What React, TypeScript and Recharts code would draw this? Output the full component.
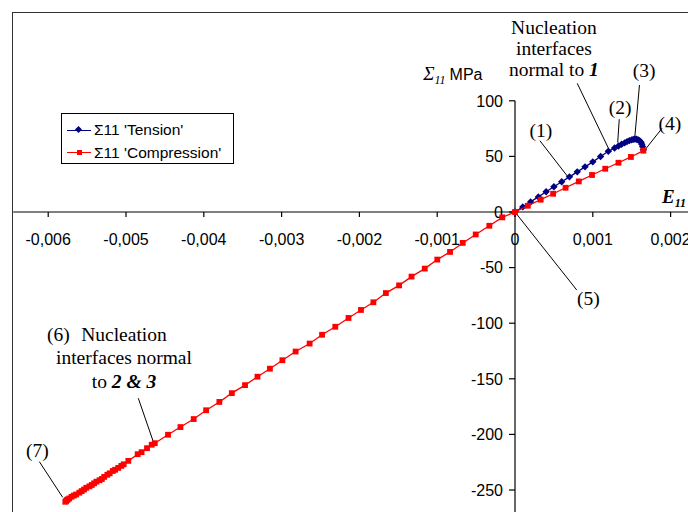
import React from 'react';
import { ScatterChart, Scatter, XAxis, YAxis, ReferenceLine, ReferenceDot } from 'recharts';

// ---------- data ----------
const tensionX = [0, 0.0001, 0.0002, 0.0003, 0.0004, 0.0005, 0.0006, 0.0007, 0.0008, 0.0009, 0.001, 0.0011, 0.0012,
  0.00128, 0.00133, 0.00137, 0.00141, 0.00144, 0.00147, 0.0015, 0.00152, 0.00154, 0.00156, 0.00158, 0.0016, 0.00162,
  0.00163, 0.00164, 0.00165];
const tensionY = [0, 4.6, 9.1, 13.6, 18.2, 22.7, 27.2, 31.6, 36.1, 40.6, 45.1, 49.9, 54.6,
  57.5, 59.3, 60.9, 62.2, 63.3, 64.2, 64.9, 65.3, 65.5, 65.4, 65.0, 64.2, 62.8,
  61.0, 58.8, 56.0];

const compressionX = [0.00165, 0.00149, 0.00133, 0.00116, 0.00099, 0.00082, 0.00065, 0.00049, 0.00033, 0.000165, 0,
  -0.000163, -0.00033, -0.000505, -0.000672, -0.000835, -0.000999, -0.00116, -0.00133, -0.00149, -0.00166, -0.00182,
  -0.00198, -0.00214, -0.00231, -0.00248, -0.00264, -0.00282, -0.00299, -0.00315, -0.00331, -0.00347, -0.00364,
  -0.0038, -0.00397, -0.00413, -0.0043, -0.00446, -0.00463, -0.00467, -0.00473, -0.0048, -0.00485, -0.00497,
  -0.00503, -0.00506, -0.00510, -0.00514, -0.00517, -0.00521, -0.00524, -0.00528, -0.00531, -0.00534, -0.00538,
  -0.00541, -0.00544, -0.00547, -0.00551, -0.00554, -0.00557, -0.0056, -0.00564, -0.00567, -0.0057, -0.00573,
  -0.00575, -0.00576, -0.00577, -0.00578];
const compressionY = [55.2, 49.5, 44.3, 38.9, 33.3, 27.5, 21.8, 16.4, 11.1, 5.6, 0,
  -4.8, -12.4, -20.2, -27.8, -35.9, -42.8, -50.9, -58.1, -66.0, -72.9, -81.2,
  -88.1, -95.3, -103.2, -110.4, -118.3, -125.5, -133.3, -140.9, -148.1, -155.7, -162.9,
  -170.8, -178.3, -186.2, -193.4, -200.3, -207.9, -209.3, -212.4, -216.0, -217.8, -223.8,
  -226.9, -228.3, -230.1, -231.8, -232.9, -235.0, -236.3, -238.2, -240.1, -241.2, -242.5,
  -244.0, -245.5, -246.7, -248.0, -249.6, -251.0, -252.4, -254.0, -255.0, -256.1, -257.6,
  -258.5, -259.1, -259.9, -260.6];

const xTickValues = [-0.006, -0.005, -0.004, -0.003, -0.002, -0.001, 0, 0.001, 0.002];
const xTickLabels = ['-0,006', '-0,005', '-0,004', '-0,003', '-0,002', '-0,001', '0', '0,001', '0,002'];
const yTickValues = [100, 50, 0, -50, -100, -150, -200, -250];
const yTickLabels = ['100', '50', '0', '-50', '-100', '-150', '-200', '-250'];
const seriesNames = ["\u03A311 'Tension'", "\u03A311 'Compression'"];

const tensionData = tensionX.map((x, i) => ({ x, y: tensionY[i] }));
const compressionData = compressionX.map((x, i) => ({ x, y: compressionY[i] }));

// ---------- styles ----------
const SERIF = "'Liberation Serif', 'Times New Roman', serif";
const SANS = "'Liberation Sans', Arial, Helvetica, sans-serif";
const BLUE = '#000080';
const RED = '#FF0000';

const Diamond = (p: any) => {
  const { cx, cy } = p;
  const r = 3.7;
  return <polygon points={`${cx},${cy - r} ${cx + r},${cy} ${cx},${cy + r} ${cx - r},${cy}`} fill={BLUE} />;
};
const Square = (p: any) => {
  const { cx, cy } = p;
  return <rect x={cx - 2.9} y={cy - 2.9} width={5.8} height={5.8} fill={RED} />;
};

const serifText = (content: (cx: number) => React.ReactNode, anchor: string = 'middle') => (p: any) => (
  <text x={p.cx} y={p.cy} textAnchor={anchor} fontFamily={SERIF} fontSize={19.5} fill="#000">
    {content(p.cx)}
  </text>
);

const leaders: [number, number, number, number][] = [
  [0.0008, 115.7, 0.00121, 56.0],
  [0.00032, 64.1, 0.000685, 31.2],
  [0.00134, 83.4, 0.00132, 62.5],
  [0.0016, 114.2, 0.00154, 67.5],
  [0.00189, 75.3, 0.00167, 55.8],
  [0, 0, 0.000793, -70.1],
  [-0.004842, -167.5, -0.004649, -206.6],
  [-0.006114, -224.5, -0.005814, -256.6],
];

export default function App() {
  return (
    <div style={{ position: 'fixed', left: 0, top: 0, width: 688, height: 512, overflow: 'hidden', background: '#fff' }}>
      <div style={{ position: 'absolute', left: 12, top: 12, width: 1000, height: 1000, borderLeft: '1.6px solid #333', borderTop: '1.6px solid #333' }} />
      <div style={{ position: 'absolute', left: 0, top: 0 }}>
        <ScatterChart width={720} height={560} margin={{ top: 100.8, right: 10.5, bottom: 14.4, left: 13.2 }}>
          <XAxis type="number" dataKey="x" domain={[-0.00645, 0.0025]} hide allowDataOverflow />
          <YAxis type="number" dataKey="y" domain={[-300, 100]} hide allowDataOverflow />
          <ReferenceLine y={0} stroke="#000" strokeWidth={1.2} ifOverflow="visible" />
          <ReferenceLine x={0} stroke="#000" strokeWidth={1.2} ifOverflow="visible" />
          {xTickValues.map((v, i) => (
            <ReferenceDot key={'xt' + i} x={v} y={0} r={0} ifOverflow="visible"
              shape={(p: any) => (
                <g>
                  <line x1={p.cx} y1={p.cy} x2={p.cx} y2={p.cy + 5} stroke="#000" strokeWidth={1.2} />
                  <text x={p.cx} y={p.cy + 33} textAnchor="middle" fontFamily={SANS} fontSize={16} fill="#000">{xTickLabels[i]}</text>
                </g>
              )} />
          ))}
          {yTickValues.map((v, i) => (
            <ReferenceDot key={'yt' + i} x={0} y={v} r={0} ifOverflow="visible"
              shape={(p: any) => (
                <g>
                  <line x1={p.cx - 6} y1={p.cy} x2={p.cx} y2={p.cy} stroke="#000" strokeWidth={1.2} />
                  <text x={p.cx - 12} y={p.cy + 5.7} textAnchor="end" fontFamily={SANS} fontSize={16} fill="#000">{yTickLabels[i]}</text>
                </g>
              )} />
          ))}
          {leaders.map((s, i) => (
            <ReferenceLine key={'ld' + i} segment={[{ x: s[0], y: s[1] }, { x: s[2], y: s[3] }]} stroke="#000" strokeWidth={1} ifOverflow="visible" />
          ))}
          <Scatter name={seriesNames[0]} data={tensionData} line={{ stroke: BLUE, strokeWidth: 1.3 }} lineType="joint" shape={Diamond} isAnimationActive={false} />
          <Scatter name={seriesNames[1]} data={compressionData} line={{ stroke: RED, strokeWidth: 1.3 }} lineType="joint" shape={Square} isAnimationActive={false} />

          <ReferenceDot x={0.0005} y={160} r={0} ifOverflow="visible" shape={serifText((cx) => (
            <>
              <tspan x={cx}>Nucleation</tspan>
              <tspan x={cx} dy={21}>interfaces</tspan>
              <tspan x={cx} dy={21}>normal to <tspan fontWeight="bold" fontStyle="italic">1</tspan></tspan>
            </>
          ))} />
          <ReferenceDot x={0.000334} y={67.4} r={0} ifOverflow="visible" shape={serifText(() => '(1)')} />
          <ReferenceDot x={0.00135} y={88.1} r={0} ifOverflow="visible" shape={serifText(() => '(2)')} />
          <ReferenceDot x={0.00166} y={121.4} r={0} ifOverflow="visible" shape={serifText(() => '(3)')} />
          <ReferenceDot x={0.00199} y={73.7} r={0} ifOverflow="visible" shape={serifText(() => '(4)')} />
          <ReferenceDot x={0.000942} y={-83.6} r={0} ifOverflow="visible" shape={serifText(() => '(5)')} />
          <ReferenceDot x={-0.00587} y={-116} r={0} ifOverflow="visible" shape={serifText(() => '(6)')} />
          <ReferenceDot x={-0.005026} y={-116} r={0} ifOverflow="visible" shape={serifText((cx) => (
            <>
              <tspan x={cx}>Nucleation</tspan>
              <tspan x={cx} dy={23.5}>interfaces normal</tspan>
              <tspan x={cx} dy={23.5}>to <tspan fontWeight="bold" fontStyle="italic">2 &amp; 3</tspan></tspan>
            </>
          ))} />
          <ReferenceDot x={-0.006138} y={-220.3} r={0} ifOverflow="visible" shape={serifText(() => '(7)')} />
          <ReferenceDot x={-0.00118} y={118.7} r={0} ifOverflow="visible" shape={(p: any) => (
            <text x={p.cx} y={p.cy} fill="#000">
              <tspan fontFamily={SERIF} fontStyle="italic" fontSize={19}>{'\u03A3'}</tspan>
              <tspan fontFamily={SERIF} fontStyle="italic" fontSize={12} dy={4}>11</tspan>
              <tspan fontFamily={SANS} fontSize={16} dy={-4} dx={4}>MPa</tspan>
            </text>
          )} />
          <ReferenceDot x={0.00189} y={8.1} r={0} ifOverflow="visible" shape={(p: any) => (
            <text x={p.cx} y={p.cy} fill="#000">
              <tspan fontFamily={SERIF} fontStyle="italic" fontWeight="bold" fontSize={19}>E</tspan>
              <tspan fontFamily={SERIF} fontStyle="italic" fontWeight="bold" fontSize={12} dy={4}>11</tspan>
            </text>
          )} />
        </ScatterChart>
      </div>
      <div style={{ position: 'absolute', left: 61, top: 113, width: 171, height: 49, border: '1px solid #000', background: '#fff', fontFamily: SANS, fontSize: 15.5 }}>
        {[BLUE, RED].map((c, i) => (
          <div key={i} style={{ position: 'absolute', left: 0, top: 16 + i * 22.7 - 10, height: 20, width: 171 }}>
            <div style={{ position: 'absolute', left: 5, top: 9.5, width: 24, height: 1.2, background: c }} />
            {i === 0 ? (
              <div style={{ position: 'absolute', left: 14, top: 7, width: 5, height: 5, background: c, transform: 'rotate(45deg)' }} />
            ) : (
              <div style={{ position: 'absolute', left: 14.5, top: 7.5, width: 5, height: 5, background: c }} />
            )}
            <div style={{ position: 'absolute', left: 32, top: 0, lineHeight: '20px', whiteSpace: 'nowrap' }}>{seriesNames[i]}</div>
          </div>
        ))}
      </div>
    </div>
  );
}
